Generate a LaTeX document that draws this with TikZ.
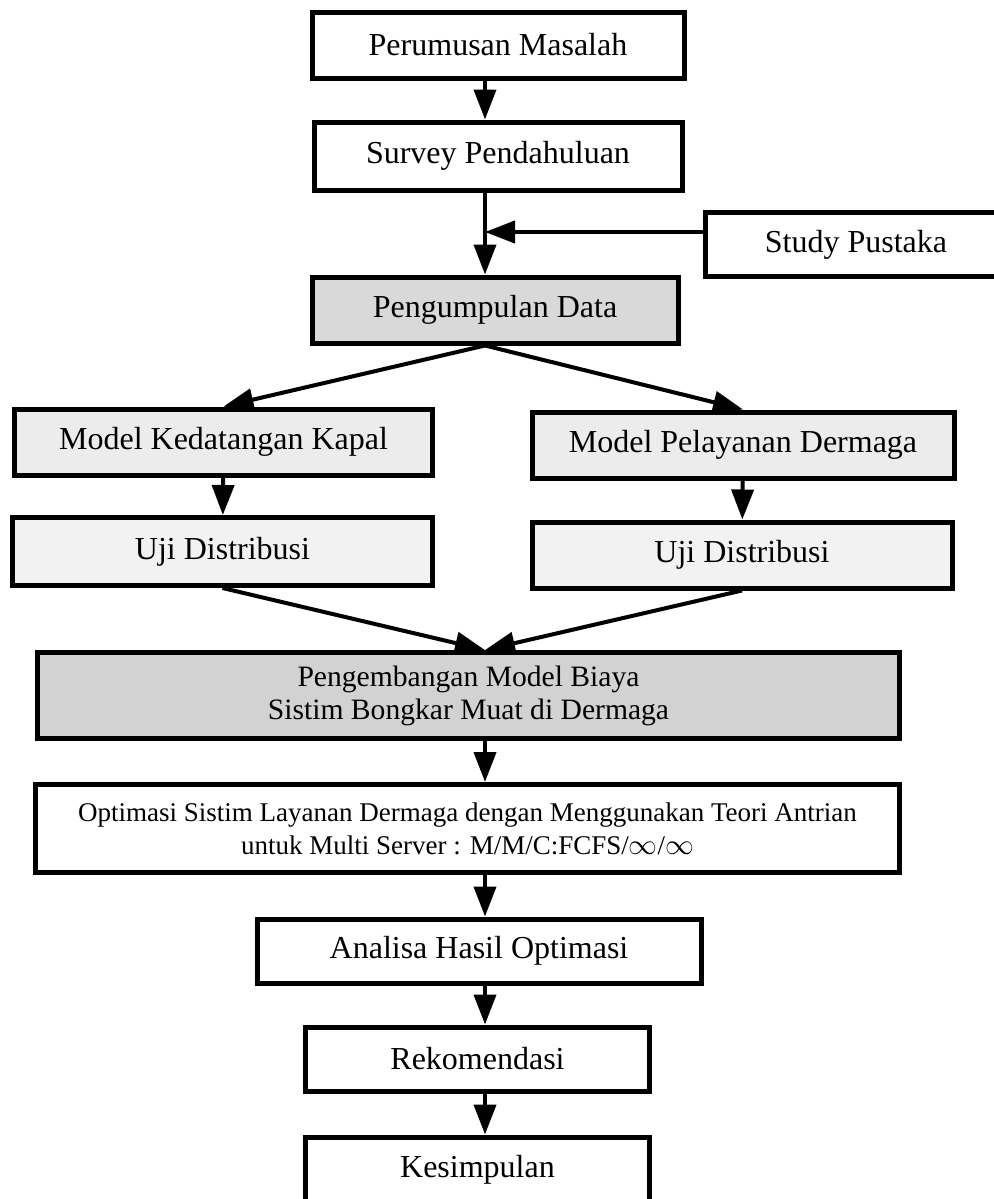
\documentclass[tikz,border=0pt]{standalone}
\usepackage{fontspec}
\setmainfont{Liberation Serif}
\usetikzlibrary{arrows.meta}

\begin{document}
\begin{tikzpicture}[x=0.5pt,y=-0.5pt,
  box/.style={draw,line width=2.5pt,inner sep=0pt,align=center,
    font=\fontsize{16}{20}\selectfont},
  arr/.style={-{Triangle[length=15pt,width=11pt]},line width=2pt}]
\clip (0,0) rectangle (994,1199);
\coordinate (ax) at (485,0);

\node[box,minimum width=186pt,minimum height=33pt] (PM) at (498,45) {Perumusan Masalah};
\node[box,minimum width=184pt,minimum height=34pt] (SP) at (498,156) {Survey Pendahuluan};
\node[box,minimum width=151pt,minimum height=32pt] (ST) at (856,244.5) {Study Pustaka};
\node[box,fill=gray!30,minimum width=183pt,minimum height=33pt] (PD) at (495,310) {Pengumpulan Data};

\node[box,fill=gray!15,minimum width=209pt,minimum height=33pt] (MK) at (223.5,442) {Model Kedatangan Kapal};
\node[box,fill=gray!15,minimum width=211pt,minimum height=33pt] (MP) at (743,445) {Model Pelayanan Dermaga};
\node[box,fill=gray!10,minimum width=210pt,minimum height=34pt] (UK) at (222.5,551.5) {Uji Distribusi};
\node[box,fill=gray!10,minimum width=210pt,minimum height=33pt] (UP) at (742,555) {Uji Distribusi};

\node[box,fill=gray!35,minimum width=431pt,minimum height=43pt,
  font=\fontsize{14.8}{16.5}\selectfont] (MB) at (468.5,695.5)
  {Pengembangan Model Biaya\\Sistim Bongkar Muat di Dermaga};
\node[box,minimum width=432pt,minimum height=44pt,
  font=\fontsize{13.5}{16.5}\selectfont] (OP) at (467.5,828.5)
  {Optimasi Sistim Layanan Dermaga dengan Menggunakan Teori Antrian\\
   untuk Multi Server : M/M/C:FCFS/$\infty$/$\infty$};

\node[box,minimum width=222pt,minimum height=32pt] (AH) at (479,951) {Analisa Hasil Optimasi};
\node[box,minimum width=172pt,minimum height=32pt] (RK) at (477.5,1059) {Rekomendasi};
\node[box,minimum width=172pt,minimum height=33pt] (KS) at (477.5,1170) {Kesimpulan};

\coordinate (J) at (ax |- 0,232);

\draw[arr] (PM.south -| ax) -- (SP.north -| ax);
\draw[arr] (SP.south -| ax) -- (PD.north -| ax);
\draw[arr] (ST.west |- J) -- (J);

\draw[arr] (PD.south -| ax) -- (MK.north);
\draw[arr] (PD.south -| ax) -- (MP.north);
\draw[arr] (MK) -- (UK);
\draw[arr] (MP) -- (UP);
\draw[arr] (UK.south) -- (MB.north -| ax);
\draw[arr] (UP.south) -- (MB.north -| ax);

\draw[arr] (MB.south -| ax) -- (OP.north -| ax);
\draw[arr] (OP.south -| ax) -- (AH.north -| ax);
\draw[arr] (AH.south -| ax) -- (RK.north -| ax);
\draw[arr] (RK.south -| ax) -- (KS.north -| ax);

\end{tikzpicture}
\end{document}
